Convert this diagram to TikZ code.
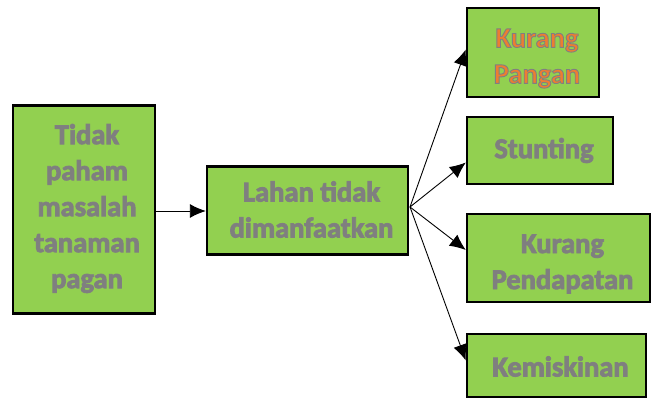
\documentclass[tikz,border=0pt]{standalone}
\usepackage{fontspec}
\setmainfont{Carlito}
\usepackage{tikz}
\usetikzlibrary{arrows.meta}

\definecolor{boxgreen}{HTML}{92D050}
\definecolor{txtgray}{HTML}{7F7F7F}
\definecolor{txtorange}{HTML}{ED7D31}

% teks dengan garis tepi abu-abu
\newcommand{\tepi}[1]{\special{pdf:literal direct 0.5 0.5 0.5 RG 0.9 w 2 Tr}#1\special{pdf:literal direct 0 Tr}}

\tikzset{
    sebab/.style={draw=black, line width=2.4pt, fill=boxgreen, inner sep=0pt},
    isi/.style={align=center, inner sep=0pt, text=txtgray, font=\fontsize{28.5}{36}\selectfont\bfseries},
    panah/.style={line width=0.9pt, -{Latex[length=16pt,width=14pt]}}
}

\begin{document}
\begin{tikzpicture}[x=1pt, y=-1pt]

        \useasboundingbox (0,0) rectangle (652,398);

        \node[sebab, minimum width=142pt, minimum height=208pt,
            label={[isi, xshift=3pt, yshift=1pt]center:\tepi{Tidak}\\\tepi{paham}\\\tepi{masalah}\\\tepi{tanaman}\\\tepi{pagan}}] (akar) at (84,209.5) {};

        \node[sebab, minimum width=201pt, minimum height=88pt,
            label={[isi, xshift=4pt, yshift=1pt]center:\tepi{Lahan tidak}\\\tepi{dimanfaatkan}}] (lahan) at (307.5,210.5) {};

        \node[sebab, minimum width=132pt, minimum height=89pt,
            label={[isi, text=txtorange, xshift=4pt, yshift=-6pt]center:\tepi{Kurang}\\\tepi{Pangan}}] (pangan) at (533,52.5) {};
        \node[sebab, minimum width=146pt, minimum height=67pt,
            label={[isi, xshift=4pt]center:\tepi{Stunting}}] (stunting) at (540,150.5) {};
        \node[sebab, minimum width=183pt, minimum height=88pt,
            label={[isi, xshift=4pt, yshift=-6pt]center:\tepi{Kurang}\\\tepi{Pendapatan}}] (pendapatan) at (558.5,258) {};
        \node[sebab, minimum width=179pt, minimum height=63pt,
            label={[isi, xshift=4pt, yshift=-1pt]center:\tepi{Kemiskinan}}] (miskin) at (556.5,365.5) {};

        \coordinate (kipas) at (410,207);

        \draw[panah] (akar.east |- 0,211) -- (lahan.west |- 0,211);

        \draw[panah] (kipas) -- ([yshift=3pt]pangan.west);
        \draw[panah] (kipas) -- ([yshift=-12pt]stunting.west);
        \draw[panah] (kipas) -- ([yshift=8pt]pendapatan.west);
        \draw[panah] (kipas) -- ([yshift=5pt]miskin.west);

    \end{tikzpicture}
\end{document}
